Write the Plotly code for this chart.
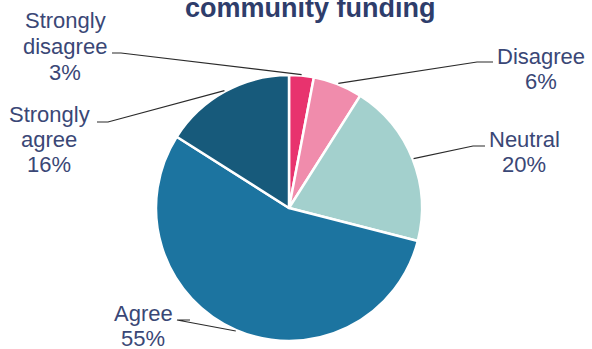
import math
import plotly.graph_objects as go

# Survey responses
categories = ["Strongly disagree", "Disagree", "Neutral", "Agree", "Strongly agree"]
label_lines = [["Strongly", "disagree"], ["Disagree"], ["Neutral"], ["Agree"], ["Strongly", "agree"]]
percentages = [3, 6, 20, 55, 16]
colors = ["#E8336E", "#F08CAC", "#A3D0CD", "#1C74A0", "#175A7B"]
title_text = "community funding"

W, H = 592, 349
CX, CY, R = 289, 208, 133  # pie centre and radius in pixels

# Label placement: centre x, first line centre y, leader elbow (x, y), leader end x
label_layout = [
    dict(x=65, y=21, elbow=(121, 53), end=112),
    dict(x=541, y=56, elbow=(477, 62), end=493),
    dict(x=524, y=139, elbow=(473, 146), end=485),
    dict(x=143, y=313, elbow=(177, 320), end=190),
    dict(x=49, y=114, elbow=(108, 122), end=97),
]
LINE_GAP = 25.5
TEXT_COLOR = "#3A4776"


def px(x):
    return x / W


def py(y):
    return 1 - y / H


fig = go.Figure(
    go.Pie(
        labels=categories,
        values=percentages,
        sort=False,
        direction="clockwise",
        rotation=0,
        marker=dict(colors=colors, line=dict(color="white", width=2.5)),
        textinfo="none",
        hoverinfo="label+percent",
        showlegend=False,
        domain=dict(x=[px(CX - R), px(CX + R)], y=[py(CY + R), py(CY - R)]),
    )
)

annotations = []
shapes = []
total = sum(percentages)
cum = 0
for lines, pct, lay in zip(label_lines, percentages, label_layout):
    mid = (cum + pct / 2) / total * 2 * math.pi
    cum += pct
    ex = CX + (R + 1) * math.sin(mid)
    ey = CY - (R + 1) * math.cos(mid)
    bx, by = lay["elbow"]
    path = f"M {px(ex)},{py(ey)} L {px(bx)},{py(by)} L {px(lay['end'])},{py(by)}"
    shapes.append(dict(type="path", xref="paper", yref="paper", path=path,
                       line=dict(color="#2B2B2B", width=1.2)))
    for i, t in enumerate(lines + [f"{pct}%"]):
        annotations.append(dict(
            x=px(lay["x"]), y=py(lay["y"] + i * LINE_GAP), xref="paper", yref="paper",
            text=t, showarrow=False, xanchor="center", yanchor="middle",
            font=dict(family="Liberation Sans, Arial, sans-serif", size=22, color=TEXT_COLOR),
        ))

annotations.append(dict(
    x=px(310), y=py(8), xref="paper", yref="paper", text=f"<b>{title_text}</b>",
    showarrow=False, xanchor="center", yanchor="middle",
    font=dict(family="Liberation Sans, Arial, sans-serif", size=27, color="#2E3D6B"),
))

fig.update_layout(
    width=W, height=H,
    margin=dict(l=0, r=0, t=0, b=0),
    paper_bgcolor="white",
    plot_bgcolor="white",
    annotations=annotations,
    shapes=shapes,
)

fig.write_html("out.html")
